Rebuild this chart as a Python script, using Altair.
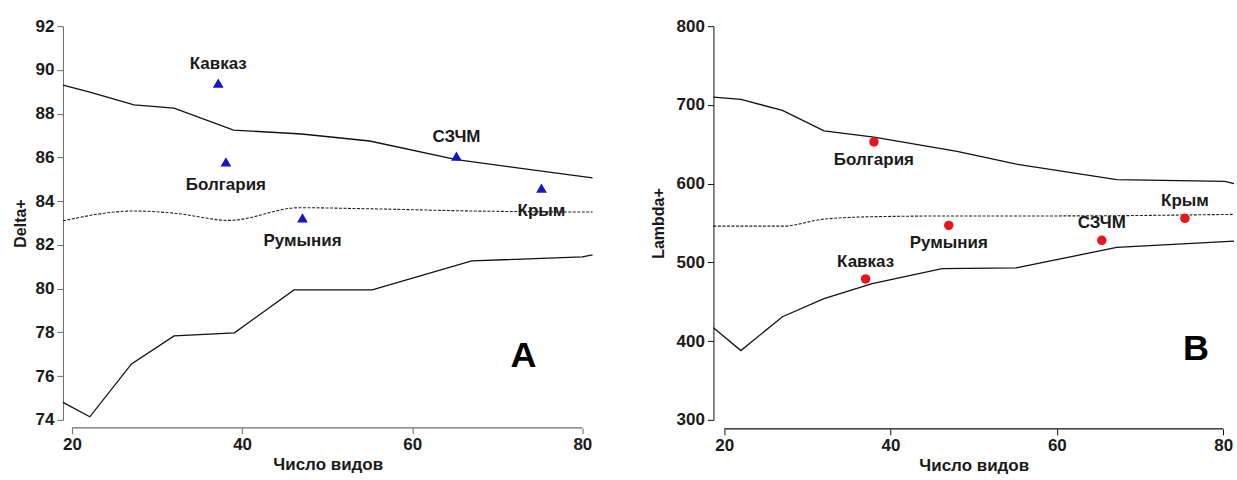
import altair as alt
import pandas as pd

# ---------------- Panel A: Delta+ ----------------
A_UP_X = [18.94, 22, 27.3, 32, 39, 47, 55, 65.2, 81.2]
A_UP_Y = [89.3, 89.0, 88.4, 88.25, 87.25, 87.07, 86.75, 85.9, 85.06]
A_MID_X = [18.94, 27.3, 32, 38.5, 46.7, 55, 67, 81.2]
A_MID_Y = [83.1, 83.55, 83.45, 83.12, 83.7, 83.65, 83.55, 83.5]
A_LO_X = [18.94, 22.1, 27, 32, 39.1, 46.1, 55.3, 67, 80, 81.2]
A_LO_Y = [74.8, 74.14, 76.56, 77.84, 77.98, 79.94, 79.94, 81.27, 81.45, 81.54]
A_NAMES = ["Кавказ", "Болгария", "Румыния", "СЗЧМ", "Крым"]
A_PT_X = [37.2, 38.1, 47.1, 65.2, 75.2]
A_PT_Y = [89.4, 85.8, 83.23, 86.06, 84.6]
A_Y_TICKS = [74, 76, 78, 80, 82, 84, 86, 88, 90, 92]

# ---------------- Panel B: Lambda+ ----------------
B_UP_X = [18.7, 22, 27, 32, 38, 48, 55, 67.2, 80.2, 81.3]
B_UP_Y = [710, 707, 693, 667, 659, 641, 625, 605, 603, 600]
B_MID_X = [18.7, 27, 32, 38, 48, 60, 81.3]
B_MID_Y = [546, 546, 555, 558, 559, 559, 561]
B_LO_X = [18.7, 22, 27, 32, 37.8, 46.2, 55.1, 67.2, 81.3]
B_LO_Y = [417, 388, 431, 454, 473, 492, 493, 519, 527]
B_NAMES = ["Кавказ", "Болгария", "Румыния", "СЗЧМ", "Крым"]
B_PT_X = [37, 38, 47, 65.4, 75.4]
B_PT_Y = [479, 653, 547, 528, 556]
B_Y_TICKS = [300, 400, 500, 600, 700, 800]

X_TICKS = [20, 40, 60, 80]
X_TITLE = "Число видов"

FONT = "Liberation Sans"
TXT = "#1a1a1a"


def make_panel(up, mid, lo, names, px, py, below, x_dom, y_dom, y_ticks,
               y_title, width, height, letter, letter_pos, marker,
               axis_color, x_offset, ytitle_pad, dy_above, dy_below):
    xs = alt.Scale(domain=x_dom, nice=False, zero=False)
    ys = alt.Scale(domain=y_dom, nice=False, zero=False)
    x_axis = alt.Axis(values=X_TICKS, title=X_TITLE, offset=x_offset,
                      domain=False, tickSize=6, tickColor=axis_color,
                      labelFont=FONT, labelFontSize=17, labelFontWeight="bold",
                      labelColor=TXT, labelPadding=3, titleFont=FONT,
                      titleFontSize=17, titleFontWeight="bold", titleColor=TXT,
                      titlePadding=4, grid=False)
    y_axis = alt.Axis(values=y_ticks, title=y_title, domain=True,
                      domainColor=axis_color, tickColor=axis_color,
                      tickSize=6, labelFont=FONT, labelFontSize=17,
                      labelFontWeight="bold", labelColor=TXT, labelPadding=3,
                      titleFont=FONT, titleFontSize=16, titleFontWeight="bold",
                      titleColor=TXT, titlePadding=ytitle_pad, grid=False)

    def X(f="x"):
        return alt.X(f"{f}:Q", scale=xs, axis=x_axis)

    def Y(f="y"):
        return alt.Y(f"{f}:Q", scale=ys, axis=y_axis)

    solid_df = pd.concat([
        pd.DataFrame({"x": up[0], "y": up[1], "s": "upper"}),
        pd.DataFrame({"x": lo[0], "y": lo[1], "s": "lower"}),
    ])
    mid_df = pd.DataFrame({"x": mid[0], "y": mid[1]})
    pts = pd.DataFrame({"name": names, "x": px, "y": py})

    solid = alt.Chart(solid_df).mark_line(color="#111", strokeWidth=1.3).encode(
        x=X(), y=Y(), detail="s:N")
    dashed = alt.Chart(mid_df).mark_line(
        color="#222", strokeWidth=1.1, strokeDash=[3, 1.5],
        interpolate="monotone").encode(x=X(), y=Y())

    if marker == "triangle":
        points = alt.Chart(pts).mark_point(
            shape="triangle-up", filled=True, size=115, color="#1414C8",
            opacity=1).encode(x=X(), y=Y())
    else:
        points = alt.Chart(pts).mark_circle(
            size=90, color="#E8141E", opacity=1).encode(x=X(), y=Y())

    lab_kw = dict(font=FONT, fontSize=17, fontWeight="bold", color=TXT)
    lab_below = alt.Chart(pts).transform_filter(
        alt.FieldOneOfPredicate(field="name", oneOf=below)
    ).mark_text(dy=dy_below, **lab_kw).encode(x=X(), y=Y(), text="name:N")
    lab_above = alt.Chart(pts).transform_filter(
        ~alt.FieldOneOfPredicate(field="name", oneOf=below)
    ).mark_text(dy=dy_above, **lab_kw).encode(x=X(), y=Y(), text="name:N")

    axis_line = alt.Chart(pd.DataFrame({"x": [X_TICKS[0]], "x2": [X_TICKS[-1]]})
                          ).mark_rule(color=axis_color, strokeWidth=1.2).encode(
        x=X("x"), x2="x2:Q", y=alt.value(height + x_offset))

    big = alt.Chart(pd.DataFrame({"t": [letter]})).mark_text(
        font=FONT, fontSize=36, fontWeight="bold", color="#000").encode(
        text="t:N", x=alt.value(letter_pos[0]), y=alt.value(letter_pos[1]))

    return alt.layer(solid, dashed, axis_line, points, lab_below, lab_above,
                     big).properties(width=width, height=height)


panel_a = make_panel(
    (A_UP_X, A_UP_Y), (A_MID_X, A_MID_Y), (A_LO_X, A_LO_Y),
    A_NAMES, A_PT_X, A_PT_Y, ["Болгария", "Румыния", "Крым"],
    [18.94, 81.2], [74, 92], A_Y_TICKS, "Delta+", 530, 394,
    "A", (461, 330), "triangle", "#6a6a6a", 8, 7, -19, 23)

panel_b = make_panel(
    (B_UP_X, B_UP_Y), (B_MID_X, B_MID_Y), (B_LO_X, B_LO_Y),
    B_NAMES, B_PT_X, B_PT_Y, ["Болгария", "Румыния"],
    [18.7, 81.3], [300, 800], B_Y_TICKS, "Lambda+", 521, 394,
    "B", (483, 323), "circle", "#111", 9, 10, -17, 18)

chart = alt.hconcat(panel_a, panel_b, spacing=54).properties(
    padding={"left": 12, "top": 17, "right": 0, "bottom": 0},
    background="white"
).configure_view(stroke=None)

chart.save("out.html", embed_options={"renderer": "svg", "actions": False})
